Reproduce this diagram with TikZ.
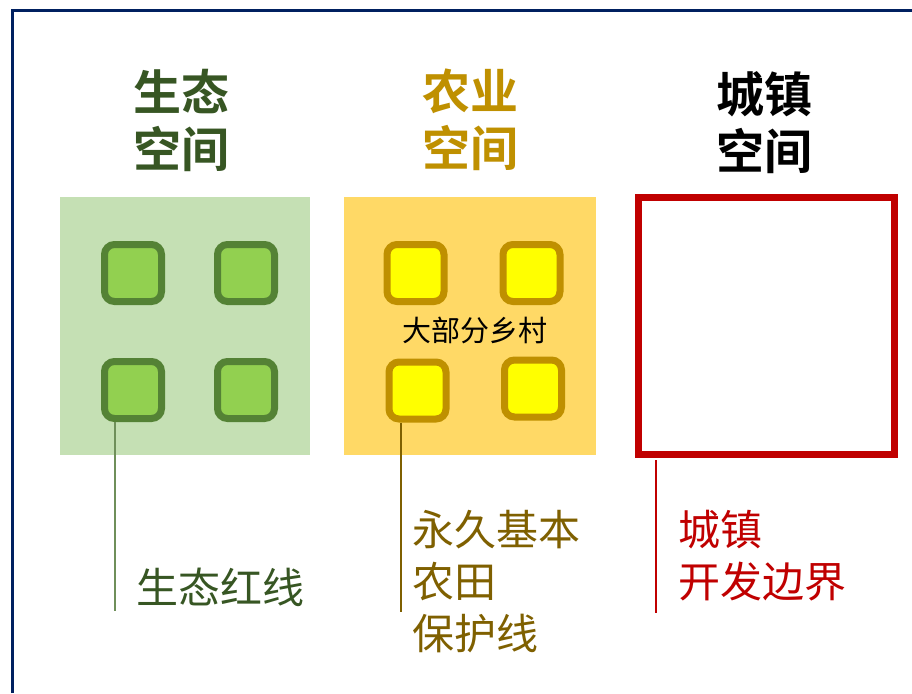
\documentclass[tikz,border=0pt]{standalone}
\usepackage{fontspec}
\newfontfamily\cjk[BoldFont={Noto Sans CJK SC Bold}]{Noto Sans CJK SC}
\definecolor{navy}{HTML}{002060}
\definecolor{ecofill}{HTML}{C5E0B4}
\definecolor{ecosq}{HTML}{92D050}
\definecolor{ecoline}{HTML}{548235}
\definecolor{ecotext}{HTML}{375623}
\definecolor{ecoconn}{HTML}{6F8F5A}
\definecolor{agrfill}{HTML}{FFD966}
\definecolor{agrsq}{HTML}{FFFF00}
\definecolor{agrline}{HTML}{BF9000}
\definecolor{agrtext}{HTML}{7F6000}
\definecolor{urbred}{HTML}{C00000}
\tikzset{
  zone/.style={draw=none, minimum width=250pt, minimum height=258pt, inner sep=0pt},
  sq/.style={rounded corners=10pt, line width=7pt, minimum size=57pt, inner sep=0pt},
  ecosqr/.style={sq, draw=ecoline, fill=ecosq},
  agrsqr/.style={sq, draw=agrline, fill=agrsq},
  title/.style={font=\cjk\bfseries\fontsize{48}{57}\selectfont, align=center, inner sep=0pt},
  lbl/.style={font=\cjk\fontsize{42}{52}\selectfont, align=left, inner sep=0pt, anchor=north west},
  conn/.style={line width=1.5pt}
}
\begin{document}
\begin{tikzpicture}[x=1pt,y=-1pt]
\useasboundingbox (0,0) rectangle (912,693);
\fill[white] (0,0) rectangle (912,693);
\draw[navy, line width=2.6pt] (12.2,693) -- (12.2,10.5) -- (912,10.5);

% titles
\node[title, text=ecotext] (t1) at (181,120) {生态\\空间};
\node[title, text=agrline] (t2) at (470,120) {农业\\空间};
\node[title, text=black] (t3) at (764,123) {城镇\\空间};

% zones
\node[zone, fill=ecofill] (eco) at (185,326) {};
\node[zone, fill=agrfill, minimum width=252pt] (agr) at (470,326) {};
\node[draw=urbred, line width=7pt, minimum width=256pt, minimum height=257pt, inner sep=0pt] (urb) at (766.5,326) {};

% eco squares
\node[ecosqr] (g1) at (133,273) {};
\node[ecosqr] (g2) at (246,273) {};
\node[ecosqr] (g3) at (133,390) {};
\node[ecosqr] (g4) at (246,390) {};

% agr squares
\node[agrsqr] (y1) at (415.5,273) {};
\node[agrsqr] (y2) at (531.5,273) {};
\node[agrsqr] (y3) at (417.5,390.5) {};
\node[agrsqr] (y4) at (533,388.5) {};
\node[font=\cjk\fontsize{29}{32}\selectfont, inner sep=0pt] (village) at (475,330) {大部分乡村};

% labels
\node[lbl, text=ecotext, anchor=west] (l1) at (136,587) {生态红线};
\node[lbl, text=agrtext] (l2) at (412,510) {永久基本\\农田\\保护线};
\node[lbl, text=urbred] (l3) at (678,510) {城镇\\开发边界};

% connectors
\coordinate (c1) at (115,611);
\coordinate (c2) at (401,612);
\coordinate (c3) at (656,613);
\draw[conn, draw=ecoconn] (g3.south -| c1) -- (c1);
\draw[conn, draw=agrtext] (y3.south -| c2) -- (c2);
\draw[conn, draw=urbred] ([yshift=-2pt]urb.south -| c3) -- (c3);
\end{tikzpicture}
\end{document}
